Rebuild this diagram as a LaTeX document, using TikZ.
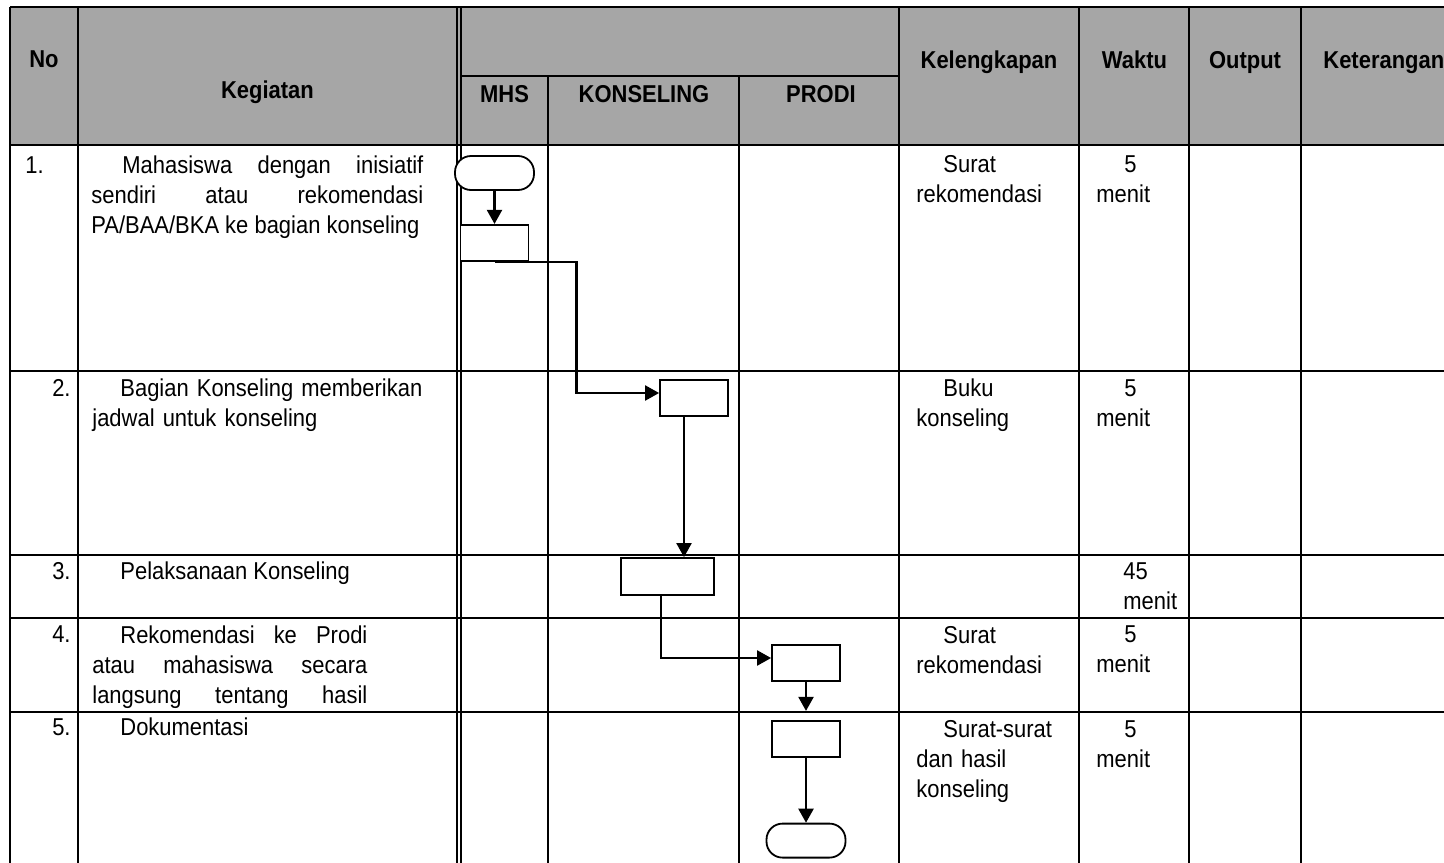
\documentclass[tikz,border=0pt]{standalone}
\usepackage{fontspec}
\setmainfont{Liberation Sans}[FakeStretch=0.9]
\usepackage{tikz}
\usetikzlibrary{arrows.meta,positioning,calc}
\definecolor{hdrgray}{HTML}{A6A6A6}
\tolerance=10000
\hbadness=10000

\begin{document}
\begin{tikzpicture}[
  x=0.5pt,y=-0.5pt,
  font=\fontsize{12.2}{15}\selectfont,
  rule/.style={black,line width=1pt},
  rulethick/.style={black,line width=1.4pt},
  rulethin/.style={black,line width=0.8pt},
  hd/.style={font=\fontsize{12.2}{15}\selectfont\bfseries,anchor=base,inner sep=0pt},
  cell/.style={anchor=base west,inner sep=0pt},
  txt/.style={anchor=base west,inner sep=0pt,text width=#1,align=justify},
  lst/.style={anchor=base west,inner sep=0pt,text width=#1,align=left},
  proc/.style={draw,fill=white,line width=0.9pt,minimum width=34pt,minimum height=18pt,inner sep=0pt},
  term/.style={draw,fill=white,line width=0.9pt,rounded corners=8pt,minimum width=39.5pt,
               minimum height=17pt,inner sep=0pt},
  ar/.style={-{Triangle[length=7pt,width=7.5pt]},line width=1.1pt}
]
\useasboundingbox (0,0) rectangle (1444,862);
\clip (0,0) rectangle (1444,862);

% header band
\fill[hdrgray] (10,7) rectangle (1470,145);

\node[hd] (hno) at (44,67) {No};
\node[hd] (hkeg) at (267.5,98) {Kegiatan};
\node[hd] (hmhs) at (504.5,102) {MHS};
\node[hd] (hkons) at (644,102) {KONSELING};
\node[hd] (hprodi) at (821,102) {PRODI};
\node[hd] (hkel) at (989,68) {Kelengkapan};
\node[hd] (hwkt) at (1134.5,68) {Waktu};
\node[hd] (hout) at (1245,68) {Output};
\node[hd,anchor=base west] (hket) at (1323,68) {Keterangan};

% numbers
\node[cell] (n1) at (25,173) {1.};
\node[cell,anchor=base east] (n2) at (71,396) {2.};
\node[cell,anchor=base east] (n3) at (71,579) {3.};
\node[cell,anchor=base east] (n4) at (71,642) {4.};
\node[cell,anchor=base east] (n5) at (71,735) {5.};

% kegiatan
\node[txt=166pt] (k1) at (91,173)
  {\hspace*{15.5pt}Mahasiswa dengan inisiatif\linebreak sendiri atau rekomendasi\linebreak
   PA/BAA/BKA ke bagian konseling};
\node[lst=166pt] (k2) at (92,396)
  {\hspace*{14pt}Bagian Konseling memberikan\\jadwal untuk konseling};
\node[cell] (k3) at (120,579) {Pelaksanaan Konseling};
\node[txt=137.5pt] (k4) at (92,643)
  {\hspace*{14pt}Rekomendasi ke Prodi\linebreak atau mahasiswa secara\linebreak
   \makebox[137.5pt][s]{langsung tentang hasil}};
\node[cell] (k5) at (120,735) {Dokumentasi};

% kelengkapan
\node[lst=80pt] (l1) at (916,172) {\hspace*{13.5pt}Surat\\rekomendasi};
\node[lst=80pt] (l2) at (916,396) {\hspace*{13.5pt}Buku\\konseling};
\node[lst=80pt] (l4) at (916,643) {\hspace*{13.5pt}Surat\\rekomendasi};
\node[lst=80pt] (l5) at (916,737) {\hspace*{13.5pt}Surat-surat\\dan hasil\\konseling};

% waktu
\node[lst=50pt] (w1) at (1096,172) {\hspace*{14pt}5\\menit};
\node[lst=50pt] (w2) at (1096,396) {\hspace*{14pt}5\\menit};
\node[lst=50pt] (w3) at (1096,579) {\hspace*{13.5pt}45\\\hspace*{13.5pt}menit};
\node[lst=50pt] (w4) at (1096,642) {\hspace*{14pt}5\\menit};
\node[lst=50pt] (w5) at (1096,737) {\hspace*{14pt}5\\menit};

% table rules
\draw[rule] (10,7) -- (1470,7);
\draw[rule] (461,76) -- (899,76);
\draw[rulethick] (10,145) -- (1470,145);
\foreach \y in {371,555,618,712}
  \draw[rule] (10,\y) -- (1470,\y);
\draw[rulethick] (10,7) -- (10,870);
\foreach \x in {78,899,1079}
  \draw[rulethick] (\x,7) -- (\x,870);
\foreach \x in {1189,1301}
  \draw[rule] (\x,7) -- (\x,870);
\foreach \x in {457,461}
  \draw[rulethin] (\x,7) -- (\x,870);
\foreach \x in {548,739}
  \draw[rule] (\x,76) -- (\x,870);

% flow
\node[term] (start) at (494.5,173) {};
\node[proc,below=16.5pt of start] (pmhs) {};
\node[proc] (pjadwal) at (694,398) {};
\node[proc,minimum width=46.5pt,minimum height=18.5pt] (plaks) at (667.5,576.5) {};
\node[proc] (prekom) at (806,663) {};
\node[proc,below=19pt of prekom] (pdok) {};
\node[term,below=32.5pt of pdok] (stop) {};

\coordinate (c2) at ($(pjadwal.south)+(-10,0)$);
\coordinate (c3) at ($(plaks.south)+(-6.5,0)$);

\draw[ar] (start) -- (pmhs);
\draw[ar] (pmhs.south) -- ++(82,0) |- ($(pjadwal.west)+(0,-5)$);
\draw[ar] (c2) -- (c2 |- plaks.north);
\draw[ar] (c3) |- ($(prekom.west)+(0,-5)$);
\draw[ar,shorten >=4.5pt] (prekom) -- (pdok);
\draw[ar] (pdok) -- (stop);
\end{tikzpicture}
\end{document}
